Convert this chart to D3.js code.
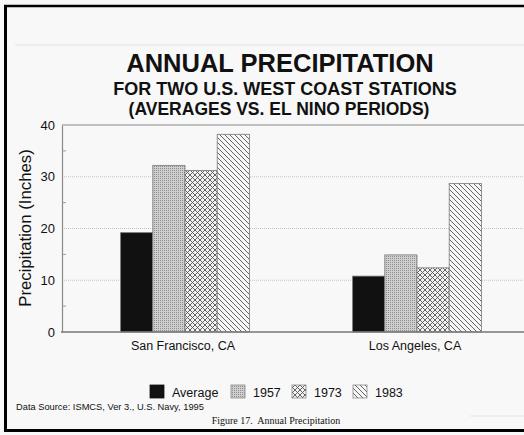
<!DOCTYPE html>
<html><head><meta charset="utf-8">
<script src="https://cdn.jsdelivr.net/npm/d3@7"></script>
<style>html,body{margin:0;padding:0;background:#f8f8f8;}svg{display:block;}</style>
</head><body>
<svg id="c" width="524" height="435"></svg>
<script>
const categories = ["San Francisco, CA", "Los Angeles, CA"];
const seriesNames = ["Average", "1957", "1973", "1983"];
const sfValues = [19.2, 32.2, 31.2, 38.2];
const laValues = [10.8, 14.9, 12.4, 28.7];
const yTicks = [0, 10, 20, 30, 40];
const minorTicks = [5, 15, 25, 35];

const valuesByCat = {"San Francisco, CA": sfValues, "Los Angeles, CA": laValues};
const svg = d3.select("#c");
const W = 524, H = 435;

svg.append("rect").attr("width", W).attr("height", H).attr("fill", "#f8f8f8");

// patterns
const defs = svg.append("defs");
const p57 = defs.append("pattern").attr("id","p1957").attr("patternUnits","userSpaceOnUse").attr("width",2).attr("height",2);
p57.append("rect").attr("width",2).attr("height",2).attr("fill","#cfcfcf");
p57.append("rect").attr("width",1).attr("height",1).attr("fill","#8e8e8e");
const p73 = defs.append("pattern").attr("id","p1973").attr("patternUnits","userSpaceOnUse").attr("width",5).attr("height",5);
p73.append("rect").attr("width",5).attr("height",5).attr("fill","#f2f2f2");
p73.append("path").attr("d","M0,0L5,5M5,0L0,5").attr("stroke","#555").attr("stroke-width",0.9).attr("fill","none");
const p83 = defs.append("pattern").attr("id","p1983").attr("patternUnits","userSpaceOnUse").attr("width",5).attr("height",5);
p83.append("rect").attr("width",5).attr("height",5).attr("fill","#f6f6f6");
p83.append("path").attr("d","M0,0L5,5M-1,4L1,6M4,-1L6,1").attr("stroke","#555").attr("stroke-width",0.9).attr("fill","none");
const fills = {"Average":"#111","1957":"url(#p1957)","1973":"url(#p1973)","1983":"url(#p1983)"};

// scan artifacts
svg.append("line").attr("x1",15).attr("x2",524).attr("y1",45).attr("y2",45).attr("stroke","#e2e2e2").attr("stroke-width",1);
svg.append("line").attr("x1",470).attr("x2",524).attr("y1",416).attr("y2",416).attr("stroke","#e6e6e6").attr("stroke-width",1);

// titles
svg.append("text").attr("x",280).attr("y",72).attr("text-anchor","middle")
  .attr("font-family","Liberation Sans, Arial, sans-serif").attr("font-weight","bold").attr("font-size",25.5).attr("fill","#111")
  .text("ANNUAL PRECIPITATION");
svg.append("text").attr("x",285).attr("y",95).attr("text-anchor","middle")
  .attr("font-family","Liberation Sans, Arial, sans-serif").attr("font-weight","bold").attr("font-size",18).attr("fill","#111")
  .text("FOR TWO U.S. WEST COAST STATIONS");
svg.append("text").attr("x",279).attr("y",115).attr("text-anchor","middle")
  .attr("font-family","Liberation Sans, Arial, sans-serif").attr("font-weight","bold").attr("font-size",17.5).attr("fill","#111")
  .text("(AVERAGES VS. EL NINO PERIODS)");

// scales
const y = d3.scaleLinear().domain([0,40]).range([332,125]);
const x0 = d3.scaleBand().domain(categories).range([69,533]).padding(0);
const groupW = 128.8;
const x1 = d3.scaleBand().domain(seriesNames).range([0,groupW]).padding(0);
const plotLeft = 62, plotRight = 524;

// gridlines
svg.append("g").selectAll("line").data(yTicks.filter(d=>d>0 && d<40)).join("line")
  .attr("x1",plotLeft).attr("x2",plotRight).attr("y1",d=>y(d)).attr("y2",d=>y(d))
  .attr("stroke","#c4c4c4").attr("stroke-width",1).attr("stroke-dasharray","1,1");
// top line
svg.append("line").attr("x1",plotLeft).attr("x2",plotRight).attr("y1",y(40)).attr("y2",y(40)).attr("stroke","#8a8a8a").attr("stroke-width",1.2);

// bars
const g = svg.append("g");
categories.forEach(cat => {
  const off = x0(cat) + (x0.bandwidth()-groupW)/2;
  g.append("g").selectAll("rect").data(seriesNames.map((s,i)=>({s, v: valuesByCat[cat][i]}))).join("rect")
    .attr("x", d=> off + x1(d.s)).attr("width", x1.bandwidth())
    .attr("y", d=> y(d.v)).attr("height", d=> y(0)-y(d.v))
    .attr("fill", d=> fills[d.s]).attr("stroke","#7a7a7a").attr("stroke-width",0.8);
});

// y axis
const yAxis = d3.axisLeft(y).tickValues(yTicks).tickSize(0).tickPadding(7);
const ya = svg.append("g").attr("transform",`translate(${plotLeft},0)`).call(yAxis);
ya.select(".domain").attr("stroke","#8a8a8a").attr("stroke-width",1.2);
ya.selectAll("text").attr("font-family","Liberation Sans, Arial, sans-serif").attr("font-size",13).attr("fill","#111");
svg.append("g").selectAll("line").data(minorTicks).join("line")
  .attr("x1",plotLeft).attr("x2",plotLeft+4).attr("y1",d=>y(d)).attr("y2",d=>y(d)).attr("stroke","#9a9a9a");

// x axis
const xa = svg.append("g").attr("transform",`translate(0,${y(0)})`).call(d3.axisBottom(x0).tickSize(0).tickPadding(9));
xa.select(".domain").remove();
xa.selectAll(".tick").attr("transform", d=>`translate(${x0(d)+x0.bandwidth()/2-2},0)`);
xa.selectAll("text").attr("font-family","Liberation Sans, Arial, sans-serif").attr("font-size",12.5).attr("fill","#111");
svg.append("line").attr("x1",plotLeft-1).attr("x2",plotRight).attr("y1",y(0)).attr("y2",y(0)).attr("stroke","#777").attr("stroke-width",1.3);

// y title
svg.append("text").attr("transform","translate(31,228) rotate(-90)").attr("text-anchor","middle")
  .attr("font-family","Liberation Sans, Arial, sans-serif").attr("font-size",16.8).attr("fill","#111")
  .text("Precipitation (Inches)");

// legend
const legendX = [150, 231, 292, 353];
const lg = svg.append("g");
seriesNames.forEach((s,i)=>{
  lg.append("rect").attr("x",legendX[i]).attr("y",385).attr("width",14).attr("height",13)
    .attr("fill",fills[s]).attr("stroke", i===0?"#111":"#8a8a8a").attr("stroke-width",0.8);
  lg.append("text").attr("x",legendX[i]+22).attr("y",397)
    .attr("font-family","Liberation Sans, Arial, sans-serif").attr("font-size",12.5).attr("fill","#111").text(s);
});

// source + caption
svg.append("text").attr("x",16).attr("y",410).attr("font-family","Liberation Sans, Arial, sans-serif")
  .attr("font-size",9.3).attr("fill","#111").text("Data Source: ISMCS, Ver 3., U.S. Navy, 1995");
svg.append("text").attr("x",276).attr("y",424).attr("text-anchor","middle").attr("font-family","Liberation Serif, Times New Roman, serif")
  .attr("font-size",10).attr("fill","#111").style("white-space","pre").text("Figure 17.  Annual Precipitation");

// frame
svg.append("line").attr("x1",4).attr("x2",524).attr("y1",6).attr("y2",6).attr("stroke","#000").attr("stroke-width",2.5);
svg.append("line").attr("x1",5.5).attr("x2",5.5).attr("y1",5).attr("y2",432).attr("stroke","#000").attr("stroke-width",3);
svg.append("line").attr("x1",4).attr("x2",524).attr("y1",430.5).attr("y2",430.5).attr("stroke","#000").attr("stroke-width",3);
</script>
</body></html>
